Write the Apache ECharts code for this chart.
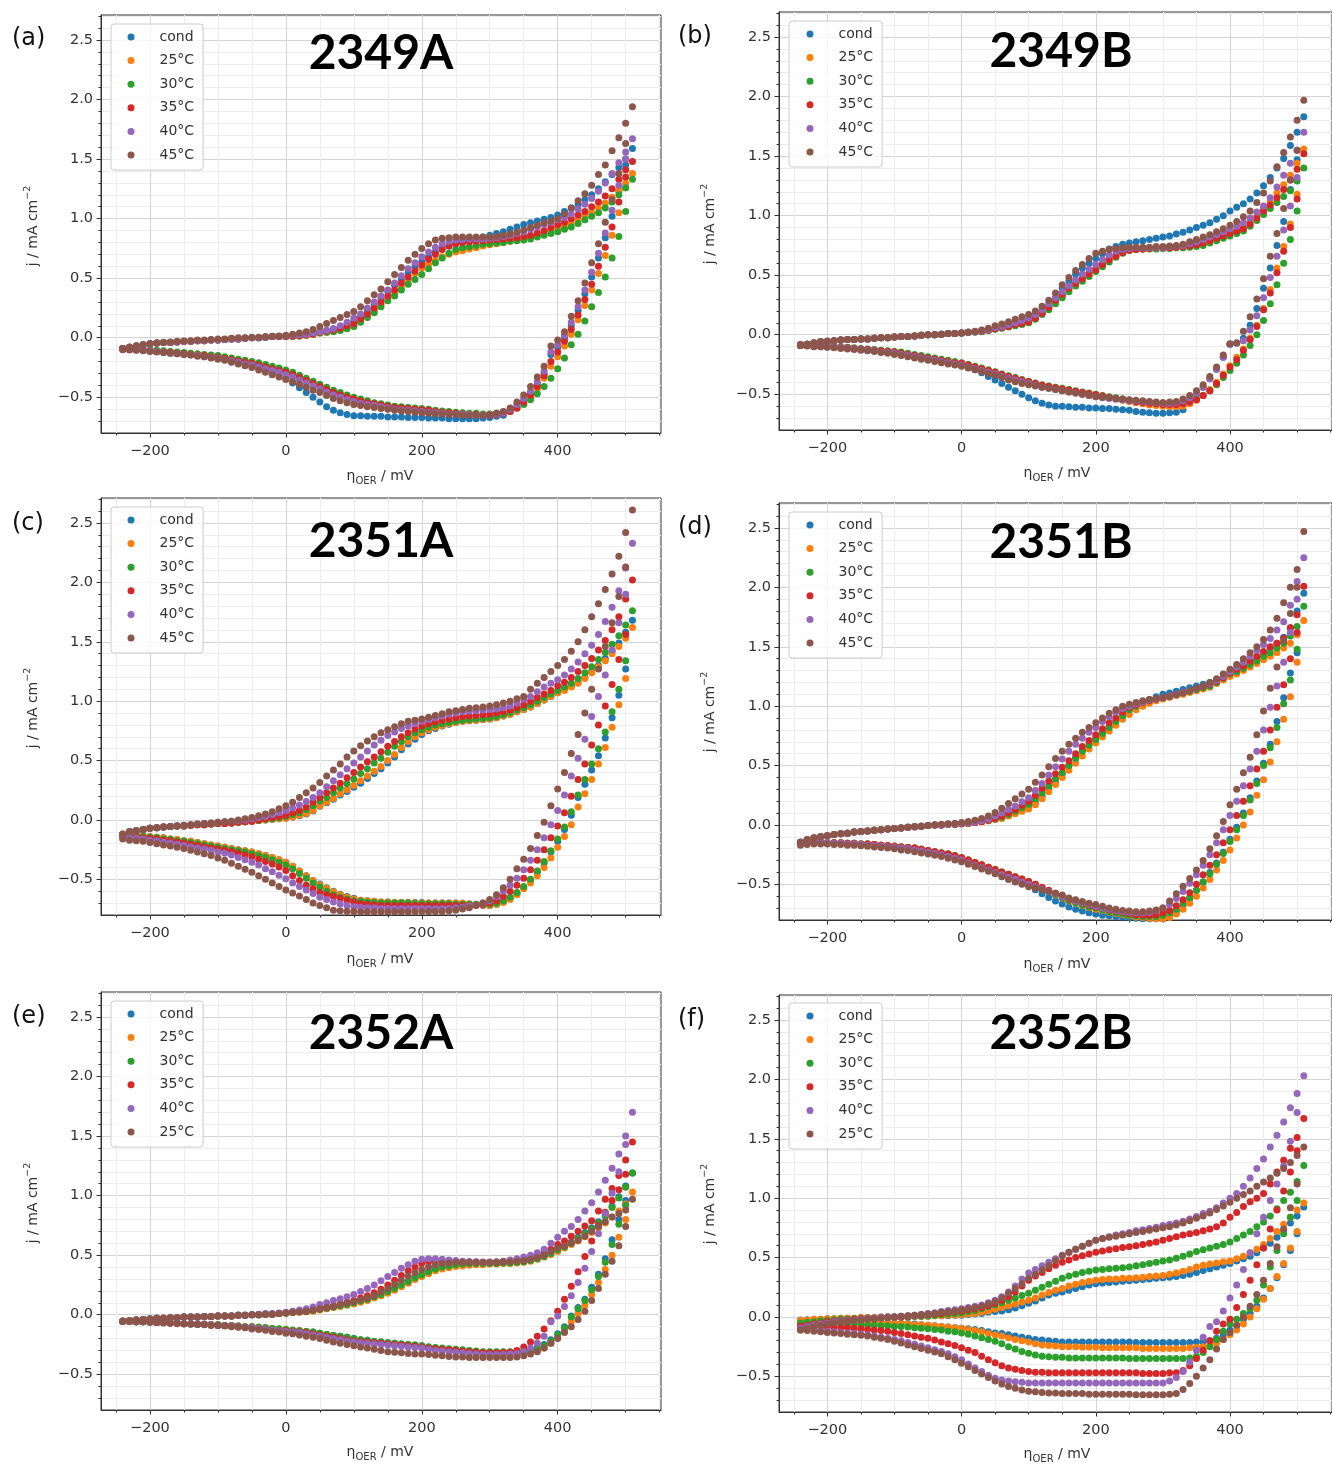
<!DOCTYPE html>
<html><head><meta charset="utf-8">
<script src="https://cdn.jsdelivr.net/npm/echarts@6/dist/echarts.min.js"></script>
<style>html,body{margin:0;padding:0;background:#fff}#c{width:1332px;height:1464px}</style>
</head><body><div id="c"></div><script>
// ---------- potential grids (mV) ----------
const X_F = [-240,-230,-220,-210,-200,-190,-180,-170,-160,-150,-140,-130,-120,-110,-100,-90,-80,-70,-60,-50,-40,-30,-20,-10,
0,10,20,30,40,50,60,70,80,90,100,110,120,130,140,150,160,170,180,190,200,210,220,230,240,250,260,270,280,290,
300,310,320,330,340,350,360,370,380,390,400,410,420,430,440,450,460,470,480,490,500,510];
const X_R = [500,490,480,470,460,450,440,430,420,410,400,390,380,370,360,350,340,330,320,310,
300,290,280,270,260,250,240,230,220,210,200,190,180,170,160,150,140,130,120,110,100,90,80,70,60,50,40,30,20,10,0,
-10,-20,-30,-40,-50,-60,-70,-80,-90,-100,-110,-120,-130,-140,-150,-160,-170,-180,-190,-200,-210,-220,-230,-240];

// ---------- tick values / labels ----------
const X_MAJOR = [-200,0,200,400];
const X_MINOR = [-250,-150,-100,-50,50,100,150,250,300,350,450,500,550];
const Y_MAJOR = [-0.5,0,0.5,1,1.5,2,2.5];
const Y_MINOR = [-0.7,-0.6,-0.4,-0.3,-0.2,-0.1,0.1,0.2,0.3,0.4,0.6,0.7,0.8,0.9,1.1,1.2,1.3,1.4,1.6,1.7,1.8,1.9,2.1,2.2,2.3,2.4,2.6,2.7];
const NAMES_AD = ['cond','25°C','30°C','35°C','40°C','45°C'];
const NAMES_EF = ['cond','25°C','30°C','35°C','40°C','25°C (2)'];
const TITLES = ['2349A','2349B','2351A','2351B','2352A','2352B'];
const LETTERS = ['(a)','(b)','(c)','(d)','(e)','(f)'];

// ================= (a) 2349A =================
const A_COND_F = [-.09,-.08,-.07,-.06,-.05,-.045,-.04,-.04,-.035,-.03,
-.03,-.025,-.025,-.02,-.02,-.015,-.01,-.01,-.005,0,
0,.005,.01,.01,
.01,.015,.02,.03,.04,.05,.06,.075,.09,.11,
.14,.18,.23,.28,.33,.39,.44,.49,.55,.60,
.64,.68,.72,.75,.77,.79,.80,.81,.83,.845,
.86,.875,.89,.91,.93,.95,.965,.98,.995,1.01,
1.03,1.06,1.09,1.12,1.16,1.20,1.25,1.31,1.37,1.43,
1.50,1.59];
const A_COND_R = [1.45,1.23,1.02,.84,.67,.51,.37,.23,.10,0,
-.08,-.14,-.30,-.39,-.47,-.53,-.58,-.62,-.65,-.66,
-.67,-.675,-.68,-.68,-.68,-.68,-.68,-.675,-.675,-.675,
-.67,-.67,-.67,-.665,-.665,-.665,-.66,-.66,-.66,-.655,
-.655,-.645,-.63,-.61,-.58,-.54,-.50,-.46,-.42,-.38,
-.34,
-.31,-.29,-.27,-.25,-.23,-.215,-.20,-.19,-.18,-.17,
-.16,-.155,-.145,-.14,-.135,-.13,-.125,-.12,-.115,-.11,
-.105,-.10,-.095,-.09];
const A_25_F = [-.09,-.08,-.07,-.06,-.05,-.045,-.04,-.04,-.035,-.03,
-.03,-.025,-.025,-.02,-.02,-.015,-.01,-.01,-.005,0,
0,.005,.01,.01,
.01,.012,.015,.02,.03,.04,.045,.055,.07,.085,
.10,.14,.18,.23,.28,.33,.38,.43,.49,.54,
.585,.62,.65,.68,.70,.72,.73,.745,.755,.77,
.78,.79,.80,.81,.82,.835,.85,.865,.88,.90,
.92,.94,.96,.99,1.02,1.05,1.09,1.13,1.18,1.24,
1.30,1.38];
const A_25_R = [1.26,1.05,.86,.69,.54,.40,.27,.15,.03,-.07,
-.16,-.24,-.34,-.43,-.50,-.55,-.59,-.615,-.63,-.64,
-.645,-.645,-.64,-.64,-.635,-.63,-.625,-.62,-.615,-.605,
-.60,-.595,-.59,-.585,-.58,-.57,-.56,-.55,-.54,-.525,
-.51,-.49,-.47,-.45,-.425,-.40,-.375,-.35,-.325,-.30,
-.28,
-.265,-.25,-.235,-.22,-.205,-.195,-.185,-.175,-.165,-.155,
-.15,-.145,-.14,-.135,-.13,-.125,-.12,-.115,-.11,-.105,
-.10,-.10,-.095,-.095];
const A_30_F = [-.09,-.08,-.07,-.06,-.05,-.045,-.04,-.04,-.035,-.03,
-.03,-.025,-.025,-.02,-.02,-.015,-.01,-.01,-.005,0,
0,.005,.01,.01,
.01,.012,.015,.02,.03,.04,.045,.05,.06,.075,
.095,.13,.17,.21,.26,.31,.35,.40,.45,.49,
.53,.58,.63,.67,.71,.74,.755,.765,.775,.785,
.79,.795,.80,.81,.815,.82,.83,.845,.86,.875,
.89,.91,.93,.96,.99,1.02,1.05,1.09,1.14,1.20,
1.26,1.33];
const A_30_R = [1.06,.85,.67,.51,.38,.26,.14,.03,-.06,-.17,
-.26,-.34,-.41,-.47,-.52,-.56,-.59,-.61,-.625,-.635,
-.64,-.64,-.635,-.635,-.63,-.625,-.62,-.615,-.61,-.60,
-.595,-.59,-.585,-.58,-.575,-.565,-.555,-.545,-.53,-.515,
-.50,-.48,-.46,-.44,-.415,-.39,-.365,-.34,-.315,-.29,
-.27,
-.255,-.24,-.225,-.21,-.20,-.19,-.18,-.17,-.16,-.15,
-.145,-.14,-.135,-.13,-.125,-.12,-.115,-.11,-.105,-.10,
-.10,-.095,-.09,-.09];
const A_35_F = [-.09,-.08,-.07,-.06,-.05,-.045,-.04,-.04,-.035,-.03,
-.03,-.025,-.025,-.02,-.02,-.015,-.01,-.01,-.005,0,
0,.005,.01,.01,
.01,.013,.017,.022,.03,.045,.055,.065,.08,.10,
.12,.16,.20,.25,.30,.35,.40,.46,.51,.56,
.61,.66,.70,.74,.77,.79,.80,.805,.81,.815,
.82,.825,.83,.835,.84,.85,.86,.88,.90,.925,
.95,.97,1.00,1.03,1.06,1.10,1.14,1.19,1.25,1.33,
1.41,1.48];
const A_35_R = [1.35,1.14,.93,.76,.60,.45,.32,.19,.07,-.03,
-.12,-.20,-.32,-.41,-.48,-.54,-.59,-.62,-.635,-.645,
-.65,-.65,-.645,-.645,-.64,-.635,-.63,-.625,-.62,-.61,
-.605,-.60,-.595,-.59,-.585,-.575,-.565,-.555,-.545,-.53,
-.515,-.50,-.48,-.46,-.435,-.41,-.385,-.36,-.335,-.31,
-.29,
-.275,-.26,-.245,-.23,-.215,-.205,-.195,-.185,-.175,-.165,
-.16,-.15,-.145,-.14,-.135,-.13,-.125,-.12,-.115,-.11,
-.105,-.10,-.10,-.095];
const A_40_F = [-.09,-.08,-.07,-.06,-.05,-.045,-.04,-.04,-.035,-.03,
-.03,-.025,-.025,-.02,-.02,-.015,-.01,-.01,-.005,0,
0,.005,.01,.012,
.015,.02,.025,.03,.04,.05,.06,.075,.10,.13,
.165,.20,.25,.30,.35,.40,.46,.52,.58,.63,
.68,.72,.76,.79,.81,.82,.825,.83,.83,.83,
.835,.84,.85,.86,.875,.89,.91,.93,.95,.97,
.99,1.01,1.04,1.08,1.12,1.17,1.23,1.30,1.38,1.47,
1.56,1.67];
const A_40_R = [1.50,1.28,1.07,.88,.71,.55,.40,.26,.13,.02,
-.06,-.12,-.28,-.37,-.45,-.51,-.56,-.60,-.63,-.64,
-.645,-.65,-.65,-.645,-.645,-.64,-.64,-.635,-.63,-.625,
-.62,-.615,-.61,-.605,-.60,-.59,-.58,-.57,-.56,-.55,
-.535,-.52,-.50,-.48,-.455,-.43,-.405,-.38,-.355,-.33,
-.31,
-.29,-.275,-.26,-.245,-.23,-.22,-.205,-.195,-.185,-.175,
-.165,-.16,-.15,-.145,-.14,-.135,-.13,-.12,-.115,-.11,
-.105,-.10,-.10,-.095];
const A_45_F = [-.09,-.08,-.07,-.06,-.05,-.045,-.04,-.035,-.03,-.03,
-.025,-.02,-.02,-.015,-.01,-.01,-.005,0,0,.005,
.005,.01,.012,.015,
.02,.03,.04,.05,.07,.095,.12,.145,.17,.195,
.22,.26,.31,.36,.41,.47,.53,.59,.65,.70,
.75,.79,.82,.835,.84,.845,.845,.845,.845,.845,
.845,.85,.86,.87,.885,.905,.925,.945,.965,.98,
1.00,1.04,1.09,1.15,1.21,1.28,1.37,1.45,1.57,1.68,
1.80,1.94];
const A_45_R = [1.63,1.38,1.16,.97,.79,.63,.46,.31,.18,.05,
-.02,-.07,-.24,-.33,-.41,-.48,-.54,-.59,-.62,-.635,
-.645,-.65,-.65,-.65,-.65,-.645,-.645,-.64,-.64,-.635,
-.63,-.625,-.62,-.615,-.61,-.60,-.595,-.585,-.58,-.57,
-.56,-.545,-.53,-.51,-.485,-.46,-.44,-.415,-.39,-.37,
-.35,
-.33,-.31,-.29,-.27,-.25,-.235,-.22,-.205,-.19,-.18,
-.17,-.16,-.155,-.145,-.14,-.135,-.13,-.125,-.12,-.115,
-.11,-.105,-.10,-.10];

// ================= (b) 2349B =================
const B_COND_F = [-.085,-.08,-.07,-.06,-.055,-.05,-.045,-.04,-.04,-.035,
-.035,-.03,-.025,-.025,-.02,-.015,-.015,-.01,-.005,0,
0,.005,.01,.01,
.015,.02,.025,.03,.04,.05,.06,.07,.085,.10,
.12,.15,.19,.24,.31,.39,.45,.51,.56,.60,
.64,.68,.72,.74,.76,.77,.78,.79,.80,.81,
.82,.83,.845,.86,.88,.90,.92,.94,.97,1.00,
1.04,1.07,1.10,1.14,1.19,1.25,1.32,1.40,1.48,1.59,
1.70,1.83];
const B_COND_R = [1.47,1.22,.95,.75,.56,.39,.22,.08,-.03,-.07,
-.08,-.19,-.29,-.37,-.44,-.50,-.56,-.63,-.65,-.655,
-.66,-.66,-.655,-.65,-.645,-.635,-.63,-.625,-.62,-.62,
-.615,-.615,-.61,-.61,-.605,-.60,-.60,-.59,-.575,-.555,
-.53,-.50,-.47,-.44,-.41,-.38,-.35,-.32,-.295,-.275,
-.255,
-.24,-.225,-.215,-.205,-.195,-.185,-.175,-.165,-.155,-.145,
-.14,-.135,-.13,-.125,-.12,-.115,-.11,-.105,-.10,-.10,
-.095,-.095,-.09,-.09];
const B_25_F = [-.085,-.08,-.07,-.06,-.055,-.05,-.045,-.04,-.04,-.035,
-.035,-.03,-.025,-.025,-.02,-.015,-.015,-.01,-.005,0,
0,.005,.01,.01,
.015,.02,.025,.03,.04,.05,.06,.07,.085,.095,
.11,.14,.18,.23,.28,.33,.38,.43,.48,.52,
.56,.60,.64,.67,.695,.71,.715,.72,.725,.73,
.73,.735,.74,.745,.755,.77,.785,.80,.82,.84,
.86,.88,.91,.95,1.00,1.06,1.12,1.19,1.26,1.34,
1.44,1.56];
const B_25_R = [1.18,.93,.74,.56,.38,.22,.08,-.03,-.12,-.19,
-.26,-.33,-.40,-.46,-.51,-.55,-.58,-.60,-.605,-.605,
-.60,-.595,-.59,-.58,-.57,-.56,-.55,-.54,-.53,-.52,
-.51,-.50,-.49,-.48,-.47,-.46,-.45,-.44,-.43,-.415,
-.40,-.385,-.37,-.355,-.34,-.32,-.305,-.29,-.275,-.26,
-.245,
-.235,-.225,-.215,-.205,-.195,-.185,-.175,-.165,-.155,-.145,
-.14,-.135,-.13,-.125,-.12,-.115,-.11,-.105,-.10,-.10,
-.095,-.095,-.09,-.09];
const B_30_F = [-.085,-.08,-.07,-.06,-.055,-.05,-.045,-.04,-.04,-.035,
-.035,-.03,-.025,-.025,-.02,-.015,-.015,-.01,-.005,0,
0,.005,.01,.01,
.015,.02,.02,.025,.035,.045,.055,.065,.075,.085,
.10,.13,.17,.21,.26,.31,.36,.41,.45,.49,
.53,.57,.61,.65,.685,.71,.715,.72,.72,.72,
.725,.725,.73,.73,.735,.74,.75,.77,.79,.81,
.83,.85,.87,.91,.96,1.01,1.06,1.11,1.16,1.21,
1.29,1.40];
const B_30_R = [1.04,.80,.60,.42,.26,.12,0,-.09,-.17,-.24,
-.30,-.36,-.42,-.47,-.51,-.54,-.56,-.575,-.58,-.58,
-.58,-.575,-.57,-.565,-.56,-.55,-.54,-.53,-.52,-.51,
-.50,-.49,-.48,-.47,-.46,-.45,-.44,-.43,-.42,-.405,
-.39,-.375,-.36,-.345,-.33,-.31,-.295,-.28,-.265,-.25,
-.235,
-.225,-.215,-.205,-.195,-.185,-.175,-.165,-.155,-.145,-.14,
-.135,-.13,-.125,-.12,-.115,-.11,-.105,-.10,-.10,-.095,
-.095,-.09,-.09,-.085];
const B_35_F = [-.085,-.08,-.07,-.06,-.055,-.05,-.045,-.04,-.04,-.035,
-.035,-.03,-.025,-.025,-.02,-.015,-.015,-.01,-.005,0,
0,.005,.01,.01,
.015,.02,.025,.03,.04,.05,.06,.07,.085,.095,
.11,.14,.18,.23,.29,.34,.39,.43,.47,.51,
.545,.59,.63,.66,.69,.71,.715,.72,.725,.73,
.73,.73,.735,.74,.745,.755,.77,.79,.81,.83,
.85,.87,.89,.93,.98,1.04,1.09,1.15,1.22,1.30,
1.39,1.52];
const B_35_R = [1.14,.90,.70,.52,.35,.21,.07,-.04,-.13,-.21,
-.27,-.34,-.41,-.47,-.51,-.545,-.565,-.58,-.585,-.585,
-.585,-.58,-.575,-.57,-.565,-.555,-.545,-.535,-.525,-.515,
-.505,-.495,-.485,-.475,-.465,-.455,-.445,-.435,-.425,-.41,
-.395,-.38,-.365,-.35,-.335,-.315,-.30,-.285,-.27,-.255,
-.24,
-.235,-.225,-.215,-.205,-.195,-.185,-.175,-.165,-.155,-.145,
-.14,-.135,-.13,-.125,-.12,-.115,-.11,-.105,-.10,-.10,
-.095,-.095,-.09,-.09];
const B_40_F = [-.085,-.08,-.07,-.06,-.055,-.05,-.045,-.04,-.04,-.035,
-.035,-.03,-.025,-.025,-.02,-.015,-.015,-.01,-.005,0,
0,.005,.01,.01,
.015,.02,.025,.035,.045,.06,.07,.085,.10,.12,
.14,.17,.21,.26,.31,.36,.41,.46,.51,.55,
.59,.63,.67,.70,.715,.725,.73,.73,.73,.735,
.735,.74,.745,.75,.765,.78,.80,.82,.84,.865,
.89,.91,.94,.98,1.03,1.08,1.15,1.24,1.34,1.44,
1.55,1.70];
const B_40_R = [1.32,1.08,.88,.66,.48,.31,.16,.04,-.05,-.07,
-.08,-.19,-.29,-.37,-.44,-.49,-.53,-.555,-.57,-.575,
-.575,-.57,-.565,-.56,-.555,-.55,-.545,-.54,-.535,-.53,
-.52,-.51,-.50,-.49,-.48,-.47,-.46,-.45,-.44,-.425,
-.41,-.395,-.38,-.365,-.35,-.33,-.315,-.30,-.285,-.27,
-.255,
-.245,-.235,-.225,-.215,-.205,-.195,-.185,-.175,-.165,-.155,
-.15,-.145,-.135,-.13,-.125,-.12,-.115,-.11,-.105,-.10,
-.10,-.095,-.09,-.09];
const B_45_F = [-.085,-.08,-.07,-.06,-.055,-.05,-.045,-.04,-.04,-.035,
-.035,-.03,-.025,-.025,-.02,-.015,-.015,-.01,-.005,0,
0,.005,.01,.01,
.015,.02,.03,.04,.055,.075,.09,.11,.13,.15,
.17,.20,.24,.29,.35,.42,.48,.54,.59,.64,
.685,.70,.715,.725,.73,.735,.735,.735,.735,.74,
.74,.745,.75,.76,.78,.80,.82,.84,.865,.89,
.92,.95,.99,1.04,1.11,1.19,1.29,1.41,1.53,1.66,
1.80,1.97];
const B_45_R = [1.55,1.30,1.06,.85,.66,.47,.30,.15,.03,-.07,
-.075,-.17,-.27,-.35,-.42,-.47,-.51,-.54,-.56,-.565,
-.57,-.565,-.56,-.555,-.55,-.545,-.54,-.535,-.53,-.525,
-.52,-.51,-.50,-.49,-.48,-.47,-.46,-.45,-.44,-.43,
-.42,-.41,-.395,-.38,-.36,-.34,-.325,-.31,-.295,-.28,
-.265,
-.255,-.245,-.235,-.225,-.215,-.205,-.195,-.185,-.175,-.165,
-.155,-.15,-.14,-.135,-.13,-.125,-.12,-.115,-.11,-.105,
-.10,-.10,-.095,-.09];

// ================= (c) 2351A =================
const C_COND_F = [-.12,-.10,-.09,-.08,-.07,-.065,-.06,-.055,-.05,-.05,
-.045,-.04,-.04,-.035,-.03,-.03,-.025,-.02,-.015,-.01,
-.005,0,.005,.01,
.015,.025,.035,.05,.075,.115,.145,.175,.21,.24,
.275,.31,.35,.39,.43,.48,.53,.59,.64,.68,
.72,.75,.77,.79,.805,.82,.83,.835,.84,.845,
.85,.86,.875,.89,.91,.93,.95,.98,1.01,1.04,
1.07,1.10,1.13,1.16,1.20,1.25,1.30,1.36,1.42,1.49,
1.58,1.68];
const C_COND_R = [1.27,1.05,.86,.69,.54,.42,.30,.19,.04,-.08,
-.18,-.27,-.36,-.44,-.51,-.57,-.62,-.66,-.69,-.71,
-.72,-.72,-.715,-.71,-.705,-.70,-.70,-.70,-.70,-.70,
-.695,-.695,-.695,-.695,-.695,-.69,-.69,-.685,-.68,-.675,
-.66,-.645,-.625,-.60,-.57,-.54,-.51,-.47,-.43,-.39,
-.355,
-.335,-.315,-.30,-.285,-.27,-.26,-.25,-.24,-.23,-.22,
-.21,-.20,-.19,-.18,-.175,-.165,-.16,-.15,-.145,-.14,
-.135,-.13,-.125,-.12];
const C_25_F = [-.12,-.10,-.09,-.08,-.07,-.065,-.06,-.055,-.05,-.05,
-.045,-.04,-.04,-.035,-.03,-.03,-.025,-.02,-.015,-.01,
-.005,0,.005,.01,
.015,.025,.04,.055,.08,.12,.15,.18,.22,.255,
.29,.33,.37,.41,.45,.50,.55,.61,.66,.70,
.735,.76,.78,.795,.81,.82,.83,.835,.84,.845,
.85,.86,.875,.89,.91,.93,.95,.98,1.01,1.04,
1.07,1.09,1.12,1.15,1.19,1.24,1.29,1.34,1.40,1.46,
1.53,1.62];
const C_25_R = [1.19,.97,.78,.61,.47,.34,.22,.11,-.04,-.14,
-.23,-.32,-.40,-.47,-.53,-.58,-.63,-.67,-.695,-.71,
-.72,-.715,-.71,-.705,-.70,-.70,-.70,-.70,-.70,-.70,
-.70,-.70,-.695,-.695,-.695,-.69,-.69,-.685,-.68,-.675,
-.665,-.65,-.63,-.605,-.575,-.545,-.51,-.47,-.43,-.39,
-.355,
-.335,-.315,-.30,-.285,-.27,-.26,-.25,-.24,-.23,-.22,
-.21,-.20,-.19,-.18,-.175,-.165,-.16,-.15,-.145,-.14,
-.135,-.13,-.125,-.12];
const C_30_F = [-.12,-.10,-.09,-.08,-.07,-.065,-.06,-.055,-.05,-.05,
-.045,-.04,-.04,-.035,-.03,-.03,-.025,-.02,-.015,-.01,
-.005,.005,.01,.02,
.03,.045,.06,.085,.12,.16,.19,.23,.27,.305,
.345,.39,.43,.48,.52,.57,.62,.66,.70,.735,
.76,.78,.80,.81,.82,.83,.84,.845,.85,.855,
.86,.87,.885,.905,.925,.945,.97,1.00,1.03,1.06,
1.09,1.12,1.15,1.19,1.24,1.29,1.35,1.41,1.48,1.55,
1.64,1.76];
const C_30_R = [1.34,1.10,.91,.74,.60,.47,.34,.21,.07,-.06,
-.16,-.26,-.35,-.43,-.50,-.56,-.61,-.65,-.68,-.70,
-.71,-.71,-.71,-.71,-.71,-.71,-.705,-.705,-.705,-.705,
-.705,-.705,-.70,-.70,-.70,-.70,-.70,-.695,-.69,-.685,
-.68,-.665,-.65,-.63,-.60,-.565,-.53,-.49,-.45,-.41,
-.38,
-.355,-.335,-.315,-.30,-.285,-.27,-.26,-.25,-.24,-.23,
-.22,-.21,-.20,-.19,-.18,-.175,-.165,-.16,-.15,-.145,
-.14,-.135,-.13,-.125];
const C_35_F = [-.12,-.10,-.09,-.08,-.07,-.065,-.06,-.055,-.05,-.05,
-.045,-.04,-.04,-.035,-.03,-.03,-.025,-.02,-.015,-.01,
0,.01,.02,.03,
.04,.06,.08,.11,.15,.19,.23,.27,.31,.355,
.40,.445,.49,.53,.575,.62,.66,.70,.735,.765,
.79,.81,.825,.84,.85,.86,.87,.875,.88,.885,
.89,.90,.91,.925,.945,.97,1.00,1.03,1.06,1.09,
1.13,1.16,1.20,1.25,1.30,1.36,1.43,1.51,1.60,1.71,
1.86,2.02];
const C_35_R = [1.56,1.35,1.14,.96,.80,.63,.47,.34,.20,.06,
-.05,-.15,-.25,-.34,-.42,-.49,-.55,-.60,-.645,-.68,
-.70,-.71,-.715,-.72,-.72,-.72,-.72,-.72,-.72,-.72,
-.72,-.72,-.72,-.72,-.72,-.72,-.72,-.715,-.71,-.705,
-.69,-.675,-.66,-.645,-.63,-.61,-.58,-.55,-.51,-.47,
-.425,
-.395,-.37,-.35,-.33,-.31,-.295,-.28,-.265,-.255,-.245,
-.235,-.225,-.215,-.205,-.195,-.185,-.175,-.17,-.16,-.155,
-.15,-.145,-.14,-.135];
const C_40_F = [-.12,-.10,-.09,-.08,-.07,-.065,-.06,-.055,-.05,-.045,
-.04,-.035,-.03,-.025,-.02,-.015,-.01,-.005,0,.01,
.02,.03,.045,.06,
.08,.10,.125,.155,.19,.23,.28,.33,.38,.43,
.48,.53,.58,.63,.67,.71,.74,.77,.79,.81,
.83,.845,.86,.875,.89,.90,.91,.915,.92,.925,
.93,.935,.945,.96,.985,1.015,1.04,1.08,1.12,1.15,
1.18,1.22,1.27,1.33,1.40,1.47,1.56,1.67,1.79,1.93,
2.12,2.33];
const C_40_R = [1.90,1.66,1.43,1.22,1.04,.87,.68,.52,.37,.21,
.08,-.04,-.15,-.25,-.34,-.42,-.49,-.55,-.60,-.645,
-.68,-.70,-.715,-.725,-.735,-.74,-.745,-.745,-.745,-.745,
-.745,-.745,-.745,-.745,-.745,-.745,-.745,-.74,-.74,-.735,
-.73,-.72,-.705,-.69,-.67,-.65,-.62,-.59,-.56,-.53,
-.495,
-.465,-.435,-.41,-.38,-.355,-.335,-.315,-.295,-.28,-.27,
-.255,-.245,-.235,-.225,-.215,-.205,-.195,-.185,-.175,-.17,
-.16,-.155,-.15,-.145];
const C_45_F = [-.12,-.10,-.09,-.08,-.07,-.065,-.06,-.055,-.05,-.045,
-.04,-.035,-.03,-.025,-.02,-.015,-.01,0,.01,.02,
.035,.05,.07,.095,
.12,.15,.19,.23,.27,.315,.37,.42,.47,.53,
.58,.625,.665,.70,.735,.76,.785,.81,.83,.84,
.85,.865,.88,.895,.91,.92,.93,.94,.945,.95,
.96,.97,.985,1.00,1.02,1.04,1.10,1.15,1.20,1.25,
1.30,1.35,1.42,1.50,1.60,1.71,1.82,1.94,2.07,2.22,
2.42,2.61];
const C_45_R = [2.13,1.88,1.66,1.46,1.27,1.10,.90,.72,.56,.40,
.26,.12,-.02,-.13,-.24,-.33,-.41,-.50,-.57,-.63,
-.67,-.70,-.72,-.74,-.75,-.76,-.765,-.77,-.77,-.77,
-.77,-.772,-.772,-.772,-.772,-.772,-.772,-.772,-.772,-.772,
-.77,-.768,-.765,-.76,-.74,-.72,-.70,-.67,-.64,-.615,
-.59,
-.56,-.53,-.50,-.47,-.44,-.415,-.39,-.365,-.34,-.32,
-.30,-.285,-.27,-.255,-.24,-.23,-.22,-.21,-.20,-.19,
-.18,-.175,-.17,-.16];

// ================= (d) 2351B =================
const D_COND_F = [-.145,-.125,-.11,-.10,-.09,-.08,-.075,-.07,-.06,-.055,
-.05,-.045,-.04,-.035,-.03,-.025,-.02,-.015,-.01,-.005,
0,0,.005,.005,
.01,.015,.02,.03,.04,.05,.06,.08,.10,.12,
.15,.19,.24,.30,.36,.43,.50,.57,.63,.69,
.735,.78,.83,.88,.93,.97,1.00,1.03,1.055,1.08,
1.10,1.11,1.125,1.14,1.155,1.17,1.185,1.20,1.22,1.25,
1.28,1.30,1.33,1.36,1.40,1.45,1.49,1.53,1.58,1.66,
1.80,1.95];
const D_COND_R = [1.45,1.28,1.07,.87,.68,.52,.37,.23,.10,-.02,
-.12,-.23,-.32,-.40,-.48,-.55,-.62,-.68,-.73,-.77,
-.79,-.79,-.79,-.79,-.785,-.78,-.775,-.77,-.765,-.76,
-.75,-.74,-.725,-.71,-.69,-.665,-.64,-.61,-.58,-.545,
-.51,-.485,-.46,-.44,-.415,-.39,-.37,-.345,-.32,-.30,
-.275,
-.26,-.245,-.235,-.225,-.215,-.205,-.195,-.19,-.185,-.18,
-.175,-.17,-.165,-.16,-.16,-.155,-.155,-.15,-.15,-.15,
-.145,-.145,-.15,-.155];
const D_25_F = [-.145,-.125,-.11,-.10,-.09,-.08,-.075,-.07,-.06,-.055,
-.05,-.045,-.04,-.035,-.03,-.025,-.02,-.015,-.01,-.005,
0,0,.005,.005,
.01,.015,.02,.025,.035,.045,.055,.075,.095,.115,
.135,.17,.22,.28,.34,.40,.46,.52,.58,.64,
.69,.74,.79,.84,.89,.93,.97,1.00,1.025,1.045,
1.06,1.075,1.09,1.10,1.115,1.13,1.145,1.16,1.19,1.22,
1.25,1.27,1.30,1.33,1.36,1.39,1.42,1.45,1.49,1.53,
1.60,1.72];
const D_25_R = [1.37,1.08,.89,.70,.53,.38,.25,.11,0,-.11,
-.21,-.30,-.38,-.46,-.53,-.60,-.66,-.71,-.75,-.78,
-.79,-.79,-.785,-.78,-.775,-.765,-.755,-.745,-.735,-.72,
-.71,-.695,-.68,-.66,-.64,-.615,-.59,-.56,-.535,-.51,
-.48,-.46,-.44,-.42,-.40,-.38,-.36,-.34,-.315,-.295,
-.275,
-.26,-.245,-.235,-.225,-.215,-.205,-.195,-.19,-.185,-.18,
-.175,-.17,-.165,-.16,-.16,-.155,-.155,-.15,-.15,-.15,
-.145,-.145,-.15,-.155];
const D_30_F = [-.145,-.125,-.11,-.10,-.09,-.08,-.075,-.07,-.06,-.055,
-.05,-.045,-.04,-.035,-.03,-.025,-.02,-.015,-.01,-.005,
0,0,.005,.005,
.01,.015,.02,.03,.04,.05,.065,.09,.115,.145,
.175,.22,.27,.33,.39,.44,.50,.56,.62,.67,
.72,.77,.82,.87,.92,.97,1.00,1.03,1.05,1.06,
1.07,1.085,1.10,1.11,1.125,1.14,1.155,1.17,1.20,1.235,
1.27,1.29,1.32,1.35,1.38,1.42,1.45,1.49,1.53,1.59,
1.67,1.84];
const D_30_R = [1.48,1.22,1.02,.82,.65,.50,.35,.21,.08,-.04,
-.14,-.24,-.33,-.41,-.48,-.55,-.61,-.66,-.71,-.74,
-.76,-.77,-.77,-.77,-.765,-.76,-.75,-.74,-.73,-.715,
-.70,-.69,-.675,-.655,-.635,-.61,-.585,-.56,-.53,-.50,
-.475,-.455,-.435,-.415,-.395,-.375,-.355,-.335,-.315,-.295,
-.275,
-.26,-.245,-.235,-.225,-.215,-.205,-.195,-.19,-.185,-.18,
-.175,-.17,-.165,-.16,-.16,-.155,-.155,-.15,-.15,-.15,
-.145,-.145,-.15,-.155];
const D_35_F = [-.145,-.125,-.11,-.10,-.09,-.08,-.075,-.07,-.06,-.055,
-.05,-.045,-.04,-.035,-.03,-.025,-.02,-.015,-.01,-.005,
0,0,.005,.005,
.01,.015,.02,.03,.04,.055,.075,.10,.13,.165,
.20,.25,.31,.37,.43,.485,.54,.60,.66,.71,
.76,.81,.86,.90,.95,.99,1.01,1.03,1.045,1.06,
1.07,1.085,1.10,1.115,1.13,1.15,1.165,1.185,1.21,1.24,
1.28,1.31,1.34,1.38,1.42,1.46,1.50,1.53,1.57,1.66,
1.77,2.01];
const D_35_R = [1.62,1.40,1.18,.99,.80,.62,.47,.33,.20,.08,
-.04,-.15,-.25,-.34,-.42,-.50,-.57,-.63,-.68,-.72,
-.74,-.755,-.76,-.76,-.755,-.745,-.735,-.725,-.715,-.70,
-.69,-.675,-.66,-.64,-.625,-.60,-.575,-.55,-.525,-.50,
-.475,-.455,-.435,-.415,-.395,-.375,-.355,-.335,-.315,-.295,
-.275,
-.26,-.245,-.235,-.225,-.215,-.205,-.195,-.19,-.185,-.18,
-.175,-.17,-.165,-.16,-.16,-.155,-.155,-.15,-.15,-.15,
-.145,-.145,-.15,-.155];
const D_40_F = [-.145,-.125,-.11,-.10,-.09,-.08,-.075,-.07,-.06,-.055,
-.05,-.045,-.04,-.035,-.03,-.025,-.02,-.015,-.01,-.005,
0,0,.005,.01,
.015,.02,.025,.035,.05,.075,.10,.13,.16,.195,
.23,.29,.35,.42,.49,.555,.62,.68,.73,.78,
.82,.87,.91,.95,.98,1.00,1.02,1.035,1.05,1.06,
1.07,1.085,1.10,1.115,1.13,1.15,1.17,1.19,1.22,1.25,
1.29,1.33,1.37,1.42,1.47,1.52,1.57,1.64,1.71,1.85,
2.05,2.25];
const D_40_R = [1.90,1.62,1.37,1.17,.99,.80,.62,.47,.33,.20,
.08,-.04,-.15,-.25,-.34,-.42,-.49,-.56,-.62,-.67,
-.70,-.72,-.735,-.74,-.74,-.735,-.73,-.72,-.71,-.70,
-.685,-.67,-.655,-.64,-.62,-.60,-.58,-.56,-.54,-.52,
-.50,-.48,-.46,-.44,-.42,-.40,-.38,-.36,-.34,-.32,
-.295,
-.28,-.265,-.25,-.24,-.23,-.22,-.21,-.20,-.195,-.19,
-.185,-.18,-.175,-.17,-.165,-.16,-.16,-.155,-.155,-.15,
-.15,-.15,-.155,-.16];
const D_45_F = [-.145,-.125,-.11,-.10,-.09,-.08,-.075,-.07,-.06,-.055,
-.05,-.045,-.04,-.035,-.03,-.025,-.02,-.015,-.01,-.005,
0,.005,.01,.015,
.02,.03,.04,.055,.075,.105,.14,.18,.22,.26,
.30,.36,.42,.49,.56,.62,.68,.73,.78,.82,
.86,.90,.94,.97,1.00,1.015,1.03,1.045,1.055,1.065,
1.07,1.08,1.095,1.11,1.13,1.15,1.17,1.20,1.23,1.27,
1.31,1.35,1.40,1.45,1.50,1.56,1.64,1.74,1.87,2.00,
2.15,2.47];
const D_45_R = [2.00,1.78,1.55,1.33,1.15,.96,.76,.57,.44,.30,
.17,.03,-.09,-.20,-.30,-.38,-.45,-.515,-.58,-.64,
-.70,-.715,-.725,-.73,-.73,-.725,-.72,-.71,-.70,-.685,
-.67,-.66,-.645,-.63,-.615,-.59,-.575,-.56,-.545,-.53,
-.52,-.50,-.48,-.46,-.435,-.41,-.39,-.37,-.35,-.33,
-.31,
-.295,-.28,-.265,-.255,-.245,-.235,-.225,-.215,-.21,-.20,
-.195,-.19,-.185,-.18,-.175,-.17,-.17,-.165,-.165,-.16,
-.16,-.16,-.165,-.17];

// ================= (e) 2352A =================
const E_COND_F = [-.055,-.05,-.045,-.04,-.035,-.03,-.03,-.025,-.025,-.02,
-.02,-.02,-.015,-.015,-.01,-.01,-.01,-.005,-.005,0,
0,.005,.005,.01,
.015,.02,.025,.03,.035,.045,.055,.065,.075,.09,
.10,.115,.135,.155,.175,.195,.22,.25,.28,.31,
.335,.36,.385,.40,.41,.42,.43,.435,.435,.435,
.435,.44,.44,.445,.45,.455,.465,.48,.50,.525,
.555,.58,.61,.65,.69,.73,.78,.84,.91,.99,
1.08,1.19];
const E_COND_R = [.96,.80,.63,.47,.34,.23,.13,.06,-.01,-.10,
-.16,-.21,-.25,-.28,-.30,-.31,-.315,-.315,-.315,-.315,
-.315,-.315,-.31,-.305,-.30,-.295,-.29,-.285,-.28,-.27,
-.26,-.255,-.25,-.245,-.24,-.235,-.23,-.225,-.215,-.21,
-.20,-.19,-.18,-.175,-.165,-.155,-.145,-.14,-.135,-.13,
-.125,
-.12,-.115,-.11,-.105,-.10,-.10,-.095,-.09,-.09,-.085,
-.085,-.08,-.08,-.075,-.075,-.07,-.07,-.065,-.065,-.06,
-.06,-.06,-.055,-.055];
const E_25_F = [-.055,-.05,-.045,-.04,-.035,-.03,-.03,-.025,-.025,-.02,
-.02,-.02,-.015,-.015,-.01,-.01,-.01,-.005,-.005,0,
0,.005,.005,.01,
.015,.02,.02,.025,.03,.04,.05,.06,.07,.08,
.09,.105,.12,.14,.16,.18,.205,.235,.265,.295,
.32,.345,.37,.385,.395,.405,.41,.415,.42,.42,
.425,.425,.43,.43,.435,.44,.45,.465,.485,.505,
.53,.56,.59,.62,.655,.69,.73,.77,.82,.87,
.93,1.03];
const E_25_R = [.80,.65,.50,.38,.27,.17,.08,.01,-.06,-.13,
-.19,-.24,-.28,-.30,-.315,-.32,-.32,-.325,-.325,-.325,
-.325,-.32,-.315,-.31,-.305,-.30,-.295,-.29,-.285,-.275,
-.265,-.26,-.255,-.25,-.245,-.24,-.235,-.23,-.22,-.215,
-.205,-.195,-.185,-.175,-.165,-.155,-.15,-.14,-.135,-.13,
-.125,
-.12,-.115,-.11,-.105,-.10,-.10,-.095,-.09,-.09,-.085,
-.085,-.08,-.08,-.075,-.075,-.07,-.07,-.065,-.065,-.06,
-.06,-.06,-.055,-.055];
const E_30_F = [-.055,-.05,-.045,-.04,-.035,-.03,-.03,-.025,-.025,-.02,
-.02,-.02,-.015,-.015,-.01,-.01,-.01,-.005,-.005,0,
0,.005,.005,.01,
.015,.02,.025,.03,.035,.045,.055,.065,.075,.085,
.10,.115,.13,.15,.17,.195,.22,.25,.28,.31,
.335,.36,.385,.40,.41,.42,.425,.43,.43,.43,
.43,.43,.435,.435,.44,.445,.455,.47,.49,.515,
.545,.57,.60,.64,.68,.72,.77,.83,.90,.98,
1.07,1.19];
const E_30_R = [.92,.76,.59,.44,.32,.21,.12,.05,-.02,-.11,
-.17,-.22,-.26,-.285,-.30,-.305,-.31,-.31,-.31,-.31,
-.31,-.31,-.305,-.30,-.295,-.29,-.285,-.28,-.275,-.27,
-.26,-.255,-.25,-.245,-.24,-.235,-.23,-.225,-.215,-.21,
-.20,-.19,-.18,-.175,-.165,-.155,-.145,-.14,-.135,-.13,
-.125,
-.12,-.115,-.11,-.105,-.10,-.10,-.095,-.09,-.09,-.085,
-.085,-.08,-.08,-.075,-.075,-.07,-.07,-.065,-.065,-.06,
-.06,-.06,-.055,-.055];
const E_35_F = [-.055,-.05,-.045,-.04,-.035,-.03,-.03,-.025,-.025,-.02,
-.02,-.02,-.015,-.015,-.01,-.01,-.01,-.005,-.005,0,
0,.005,.005,.01,
.015,.02,.025,.03,.04,.05,.06,.075,.09,.105,
.12,.14,.16,.185,.215,.25,.29,.33,.37,.40,
.43,.445,.45,.45,.45,.45,.445,.445,.44,.44,
.44,.44,.445,.45,.455,.46,.475,.495,.52,.55,
.59,.62,.66,.70,.745,.79,.87,.97,1.06,1.17,
1.30,1.45];
const E_35_R = [1.18,1.05,.96,.86,.75,.62,.49,.36,.24,.13,
.03,-.05,-.12,-.18,-.23,-.27,-.30,-.315,-.32,-.32,
-.32,-.32,-.315,-.31,-.305,-.30,-.295,-.29,-.285,-.28,
-.27,-.265,-.26,-.255,-.25,-.245,-.24,-.235,-.23,-.225,
-.22,-.21,-.20,-.19,-.18,-.17,-.16,-.15,-.145,-.14,
-.135,
-.135,-.13,-.12,-.115,-.11,-.105,-.10,-.095,-.09,-.09,
-.085,-.08,-.08,-.075,-.075,-.07,-.07,-.065,-.065,-.06,
-.06,-.06,-.055,-.055];
const E_40_F = [-.055,-.05,-.045,-.04,-.035,-.03,-.03,-.025,-.025,-.02,
-.02,-.02,-.015,-.015,-.01,-.01,-.01,-.005,-.005,0,
.005,.01,.01,.015,
.02,.03,.04,.05,.065,.085,.10,.12,.135,.15,
.17,.195,.22,.25,.285,.32,.355,.39,.42,.45,
.465,.47,.47,.465,.46,.455,.45,.445,.445,.44,
.44,.445,.45,.46,.47,.485,.50,.52,.55,.60,
.65,.70,.74,.80,.87,.94,1.03,1.13,1.23,1.35,
1.50,1.70];
const E_40_R = [1.43,1.20,1.02,.85,.68,.53,.39,.27,.16,.07,
-.01,-.06,-.18,-.24,-.28,-.31,-.325,-.33,-.335,-.335,
-.335,-.335,-.33,-.325,-.32,-.315,-.31,-.305,-.30,-.29,
-.28,-.275,-.27,-.265,-.26,-.255,-.25,-.245,-.24,-.235,
-.23,-.22,-.21,-.20,-.19,-.18,-.17,-.16,-.15,-.145,
-.14,
-.135,-.13,-.12,-.115,-.11,-.105,-.10,-.095,-.09,-.09,
-.085,-.08,-.08,-.075,-.075,-.07,-.07,-.065,-.065,-.06,
-.06,-.06,-.055,-.055];
const E_25B_F = [-.055,-.05,-.045,-.04,-.035,-.03,-.03,-.025,-.025,-.02,
-.02,-.02,-.015,-.015,-.01,-.01,-.01,-.005,-.005,0,
0,.005,.005,.01,
.015,.02,.025,.03,.04,.05,.06,.07,.085,.10,
.11,.125,.14,.16,.19,.22,.255,.29,.325,.355,
.38,.40,.42,.43,.435,.44,.44,.44,.44,.44,
.44,.44,.445,.445,.45,.455,.465,.48,.50,.53,
.56,.58,.60,.625,.66,.70,.74,.78,.82,.85,
.88,.97];
const E_25B_R = [.74,.58,.45,.34,.22,.12,.03,-.04,-.10,-.15,
-.20,-.24,-.28,-.31,-.33,-.345,-.355,-.36,-.36,-.36,
-.36,-.36,-.36,-.36,-.355,-.355,-.35,-.345,-.34,-.335,
-.33,-.33,-.325,-.32,-.315,-.31,-.30,-.29,-.28,-.27,
-.26,-.25,-.24,-.23,-.215,-.20,-.19,-.18,-.17,-.16,
-.155,
-.145,-.14,-.13,-.125,-.12,-.11,-.105,-.10,-.095,-.09,
-.09,-.085,-.08,-.08,-.075,-.075,-.07,-.07,-.065,-.065,
-.06,-.06,-.055,-.055];

// ================= (f) 2352B =================
const F_COND_F = [-.03,-.025,-.02,-.02,-.015,-.015,-.01,-.01,-.01,-.005,
-.005,-.005,0,0,0,0,0,.005,.005,.005,
.01,.01,.01,.015,
.015,.02,.025,.03,.04,.045,.05,.06,.075,.095,
.115,.135,.16,.185,.20,.21,.225,.24,.255,.27,
.28,.285,.29,.295,.30,.305,.31,.315,.32,.325,
.33,.335,.34,.35,.36,.375,.39,.405,.42,.435,
.45,.47,.49,.51,.54,.58,.62,.67,.73,.79,
.85,.925];
const F_COND_R = [.70,.56,.44,.33,.24,.16,.09,.03,-.02,-.07,
-.11,-.15,-.18,-.20,-.21,-.21,-.215,-.215,-.215,-.215,
-.215,-.215,-.215,-.215,-.215,-.21,-.21,-.21,-.21,-.21,
-.21,-.21,-.21,-.21,-.21,-.21,-.205,-.20,-.195,-.19,
-.18,-.17,-.16,-.15,-.14,-.135,-.125,-.115,-.105,-.10,
-.095,
-.09,-.085,-.08,-.075,-.07,-.065,-.06,-.055,-.055,-.05,
-.05,-.045,-.045,-.04,-.04,-.035,-.035,-.035,-.03,-.03,
-.03,-.03,-.025,-.025];
const F_25_F = [-.03,-.025,-.02,-.02,-.015,-.015,-.01,-.01,-.01,-.005,
-.005,-.005,0,0,0,0,0,.005,.005,.005,
.01,.01,.015,.015,
.02,.025,.03,.04,.05,.065,.08,.095,.11,.125,
.14,.16,.185,.205,.225,.24,.26,.275,.29,.30,
.31,.315,.32,.32,.325,.325,.33,.335,.34,.345,
.35,.36,.37,.385,.40,.42,.435,.445,.455,.465,
.47,.49,.51,.54,.57,.61,.66,.72,.78,.84,
.90,.96];
const F_25_R = [.72,.58,.45,.34,.24,.15,.07,0,-.06,-.11,
-.15,-.19,-.22,-.24,-.25,-.255,-.26,-.265,-.265,-.265,
-.265,-.265,-.265,-.265,-.26,-.26,-.26,-.26,-.26,-.26,
-.255,-.255,-.255,-.25,-.25,-.25,-.245,-.24,-.235,-.225,
-.21,-.20,-.19,-.175,-.16,-.15,-.14,-.125,-.115,-.105,
-.095,
-.09,-.085,-.08,-.075,-.07,-.065,-.065,-.06,-.055,-.055,
-.05,-.05,-.045,-.045,-.04,-.04,-.04,-.035,-.035,-.035,
-.03,-.03,-.03,-.03];
const F_30_F = [-.05,-.045,-.04,-.035,-.03,-.025,-.02,-.02,-.015,-.015,
-.01,-.01,-.005,-.005,0,0,0,.005,.005,.01,
.015,.02,.025,.03,
.035,.045,.055,.07,.085,.10,.12,.14,.16,.18,
.20,.225,.25,.275,.30,.325,.345,.36,.375,.385,
.395,.40,.405,.41,.415,.42,.43,.44,.45,.46,
.47,.48,.495,.51,.53,.55,.565,.58,.595,.61,
.63,.66,.69,.72,.76,.80,.85,.91,.98,1.05,
1.14,1.275];
const F_30_R = [.98,.84,.70,.56,.42,.27,.14,.07,.03,-.02,
-.06,-.12,-.19,-.25,-.30,-.33,-.345,-.35,-.35,-.35,
-.35,-.35,-.35,-.35,-.35,-.35,-.345,-.345,-.345,-.345,
-.345,-.345,-.345,-.345,-.345,-.34,-.34,-.335,-.33,-.32,
-.305,-.29,-.27,-.25,-.225,-.205,-.19,-.175,-.16,-.145,
-.135,
-.125,-.12,-.11,-.105,-.10,-.095,-.09,-.085,-.08,-.08,
-.075,-.075,-.07,-.07,-.065,-.065,-.065,-.06,-.06,-.06,
-.06,-.06,-.06,-.06];
const F_35_F = [-.08,-.07,-.06,-.05,-.04,-.035,-.03,-.025,-.02,-.015,
-.01,-.01,-.005,0,0,0,.005,.01,.015,.02,
.025,.03,.04,.045,
.05,.06,.07,.08,.095,.115,.14,.17,.21,.26,
.31,.345,.375,.405,.435,.46,.48,.50,.515,.53,
.545,.555,.565,.575,.585,.59,.60,.61,.62,.63,
.645,.66,.675,.69,.70,.71,.725,.74,.76,.79,
.84,.88,.93,.97,1.00,1.04,1.12,1.22,1.32,1.42,
1.51,1.67];
const F_35_R = [1.40,1.22,1.06,.90,.74,.58,.44,.31,.19,.08,
-.02,-.06,-.12,-.20,-.28,-.35,-.41,-.45,-.47,-.47,
-.475,-.475,-.475,-.475,-.47,-.47,-.47,-.47,-.47,-.47,
-.47,-.47,-.47,-.47,-.47,-.47,-.47,-.47,-.465,-.465,
-.46,-.45,-.44,-.43,-.41,-.385,-.36,-.33,-.30,-.28,
-.26,
-.24,-.225,-.21,-.195,-.18,-.17,-.16,-.15,-.14,-.13,
-.12,-.115,-.11,-.105,-.10,-.095,-.09,-.09,-.085,-.085,
-.08,-.08,-.08,-.08];
const F_40_F = [-.095,-.08,-.07,-.06,-.05,-.04,-.035,-.03,-.025,-.02,
-.015,-.01,-.005,0,0,.005,.01,.015,.02,.03,
.035,.045,.055,.06,
.07,.08,.09,.10,.12,.14,.17,.21,.26,.32,
.37,.40,.43,.46,.49,.52,.545,.57,.595,.62,
.645,.66,.675,.69,.70,.71,.725,.735,.745,.755,
.77,.78,.79,.805,.825,.845,.87,.89,.92,.96,
1.00,1.04,1.10,1.17,1.25,1.33,1.43,1.53,1.64,1.76,
1.88,2.03];
const F_40_R = [1.72,1.48,1.27,1.12,.98,.84,.70,.54,.40,.27,
.16,.05,-.04,-.08,-.17,-.28,-.38,-.46,-.51,-.54,
-.555,-.555,-.555,-.555,-.555,-.555,-.555,-.555,-.555,-.555,
-.555,-.555,-.555,-.555,-.555,-.555,-.555,-.555,-.555,-.555,
-.555,-.55,-.545,-.54,-.53,-.515,-.49,-.46,-.43,-.395,
-.36,
-.335,-.31,-.29,-.275,-.26,-.245,-.23,-.215,-.20,-.19,
-.18,-.17,-.16,-.15,-.145,-.14,-.135,-.13,-.125,-.12,
-.115,-.11,-.10,-.095];
const F_25B_F = [-.11,-.095,-.08,-.07,-.06,-.05,-.04,-.035,-.03,-.025,
-.02,-.015,-.01,-.005,0,.005,.01,.015,.02,.025,
.03,.04,.045,.05,
.06,.07,.08,.09,.11,.13,.16,.20,.24,.28,
.325,.36,.395,.43,.475,.515,.545,.57,.595,.62,
.645,.66,.67,.68,.69,.70,.71,.72,.73,.74,
.75,.76,.775,.79,.81,.83,.85,.875,.905,.935,
.965,1.00,1.03,1.06,1.10,1.135,1.17,1.21,1.25,1.30,
1.36,1.43];
const F_25B_R = [1.12,.92,.74,.59,.45,.31,.19,.09,0,-.07,
-.13,-.19,-.27,-.36,-.43,-.50,-.56,-.61,-.645,-.65,
-.655,-.655,-.655,-.655,-.655,-.65,-.65,-.65,-.65,-.65,
-.65,-.65,-.645,-.645,-.645,-.645,-.64,-.64,-.635,-.63,
-.625,-.615,-.60,-.585,-.565,-.54,-.51,-.48,-.45,-.42,
-.39,
-.36,-.335,-.31,-.295,-.28,-.265,-.25,-.235,-.22,-.205,
-.19,-.18,-.17,-.16,-.155,-.15,-.145,-.14,-.135,-.13,
-.125,-.12,-.115,-.11];

// ---------- assembly ----------
const PANEL_F = [
  [A_COND_F,A_25_F,A_30_F,A_35_F,A_40_F,A_45_F],
  [B_COND_F,B_25_F,B_30_F,B_35_F,B_40_F,B_45_F],
  [C_COND_F,C_25_F,C_30_F,C_35_F,C_40_F,C_45_F],
  [D_COND_F,D_25_F,D_30_F,D_35_F,D_40_F,D_45_F],
  [E_COND_F,E_25_F,E_30_F,E_35_F,E_40_F,E_25B_F],
  [F_COND_F,F_25_F,F_30_F,F_35_F,F_40_F,F_25B_F]];
const PANEL_R = [
  [A_COND_R,A_25_R,A_30_R,A_35_R,A_40_R,A_45_R],
  [B_COND_R,B_25_R,B_30_R,B_35_R,B_40_R,B_45_R],
  [C_COND_R,C_25_R,C_30_R,C_35_R,C_40_R,C_45_R],
  [D_COND_R,D_25_R,D_30_R,D_35_R,D_40_R,D_45_R],
  [E_COND_R,E_25_R,E_30_R,E_35_R,E_40_R,E_25B_R],
  [F_COND_R,F_25_R,F_30_R,F_35_R,F_40_R,F_25B_R]];

const COLORS = ['#1f77b4','#ff7f0e','#2ca02c','#d62728','#9467bd','#8c564b'];
const FONT = 'DejaVu Sans';
const X_MIN = -272, X_MAX = 552, Y_MIN = -0.8, Y_MAX = 2.71;
const LAYOUT = [
  {g:[101,15,418], lg:[111,24,16.5], letter:[12,39], title:[381,54], yt:[33,226], xt:[380,476]},
  {g:[779,12,418], lg:[789,21,17.5], letter:[678,37], title:[1061,52], yt:[710,224], xt:[1057,473]},
  {g:[101,498,417], lg:[111,507,16.5], letter:[12,524], title:[381,542], yt:[33,708], xt:[380,959]},
  {g:[779,503,417], lg:[789,512,17.5], letter:[678,528], title:[1061,543], yt:[710,712], xt:[1057,964]},
  {g:[101,992,418], lg:[111,1001,16.5], letter:[12,1017], title:[381,1034], yt:[33,1203], xt:[380,1452]},
  {g:[779,995,417], lg:[789,1003,17.5], letter:[678,1020], title:[1061,1034], yt:[710,1204], xt:[1057,1454]}];

function pairs(xs, ys) {
  const n = Math.min(xs.length, ys.length), out = [];
  for (let i = 0; i < n; i++) out.push([xs[i], ys[i]]);
  return out;
}
const fmtX = v => (v < 0 ? '\u2212' : '') + Math.abs(v);
const fmtY = v => (v < 0 ? '\u2212' : '') + Math.abs(v).toFixed(1);

const grid = [], xAxis = [], yAxis = [], series = [], legend = [], graphic = [];
LAYOUT.forEach((L, p) => {
  grid.push({left: L.g[0], top: L.g[1], width: 560, height: L.g[2], show: true,
    borderColor: '#333', borderWidth: 1, backgroundColor: 'transparent'});
  // minor axes (short ticks + light grid)
  xAxis.push({gridIndex: p, type: 'value', min: X_MIN, max: X_MAX, position: 'bottom',
    axisLine: {show: false, onZero: false}, axisLabel: {show: false},
    axisTick: {show: true, length: 2.5, customValues: X_MINOR, lineStyle: {color: '#333', width: 1}},
    splitLine: {show: true, lineStyle: {color: '#ededed', width: 1}}});
  yAxis.push({gridIndex: p, type: 'value', min: Y_MIN, max: Y_MAX, position: 'left',
    axisLine: {show: false, onZero: false}, axisLabel: {show: false},
    axisTick: {show: true, length: 2.5, customValues: Y_MINOR, lineStyle: {color: '#333', width: 1}},
    splitLine: {show: true, lineStyle: {color: '#ededed', width: 1}}});
  // major axes
  xAxis.push({gridIndex: p, type: 'value', min: X_MIN, max: X_MAX, position: 'bottom',
    axisLine: {show: true, onZero: false, lineStyle: {color: '#333', width: 1}},
    axisTick: {show: true, length: 4.5, customValues: X_MAJOR, lineStyle: {color: '#333', width: 1}},
    axisLabel: {customValues: X_MAJOR, formatter: fmtX, fontSize: 14.5, fontFamily: FONT, color: '#333', margin: 11},
    splitLine: {show: true, lineStyle: {color: '#d4d4d4', width: 1}}});
  yAxis.push({gridIndex: p, type: 'value', min: Y_MIN, max: Y_MAX, position: 'left',
    axisLine: {show: true, onZero: false, lineStyle: {color: '#333', width: 1}},
    axisTick: {show: true, length: 4.5, customValues: Y_MAJOR, lineStyle: {color: '#333', width: 1}},
    axisLabel: {customValues: Y_MAJOR, formatter: fmtY, fontSize: 14.5, fontFamily: FONT, color: '#333', margin: 8},
    splitLine: {show: true, lineStyle: {color: '#d4d4d4', width: 1}}});
  const names = p >= 4 ? NAMES_EF : NAMES_AD;
  names.forEach((nm, k) => {
    series.push({type: 'scatter', name: nm, xAxisIndex: 2 * p + 1, yAxisIndex: 2 * p + 1,
      data: pairs(X_F, PANEL_F[p][k]).concat(pairs(X_R, PANEL_R[p][k])),
      symbol: 'circle', symbolSize: 7, itemStyle: {color: COLORS[k], opacity: 1},
      silent: true, animation: false, clip: true});
  });
  legend.push({data: names, orient: 'vertical', left: L.lg[0], top: L.lg[1],
    padding: [5, 9, 7, L.lg[2]], itemGap: 7.6, itemWidth: 47, itemHeight: 7, icon: 'circle',
    backgroundColor: 'rgba(255,255,255,0.8)', borderColor: '#cccccc', borderWidth: 1, borderRadius: 3,
    textStyle: {fontSize: 14, fontFamily: FONT, color: '#333', lineHeight: 16},
    formatter: n => n.replace(' (2)', ''), selectedMode: false, z: 10});
  graphic.push({type: 'text', x: L.letter[0], y: L.letter[1], silent: true,
    style: {text: LETTERS[p], fontSize: 24, fontFamily: FONT, fill: '#111', align: 'left', verticalAlign: 'middle'}});
  graphic.push({type: 'text', x: L.title[0], y: L.title[1], silent: true, z: 20,
    style: {text: TITLES[p], fontSize: 48, fontWeight: 'bold', fontFamily: 'Lato', fill: '#000', align: 'center', verticalAlign: 'middle'}});
  graphic.push({type: 'text', x: L.yt[0], y: L.yt[1], rotation: Math.PI / 2, silent: true,
    style: {text: '{e|j / mA cm}{p|\u22122}', align: 'center', verticalAlign: 'middle',
      rich: {e: {fontSize: 14, fontFamily: FONT, fill: '#333', lineHeight: 20, verticalAlign: 'middle'},
             p: {fontSize: 9.5, fontFamily: FONT, fill: '#333', lineHeight: 10, verticalAlign: 'top'}}}});
  graphic.push({type: 'text', x: L.xt[0], y: L.xt[1], silent: true,
    style: {text: '{e|\u03b7}{s|OER}{e| / mV}', align: 'center', verticalAlign: 'middle',
      rich: {e: {fontSize: 14, fontFamily: FONT, fill: '#333', lineHeight: 20, verticalAlign: 'middle'},
             s: {fontSize: 10, fontFamily: FONT, fill: '#333', lineHeight: 14, verticalAlign: 'bottom'}}}});
});

const chart = echarts.init(document.getElementById('c'), null, {renderer: 'canvas', width: 1332, height: 1464});
chart.setOption({backgroundColor: '#ffffff', animation: false, grid, xAxis, yAxis, series, legend, graphic});
</script></body></html>
